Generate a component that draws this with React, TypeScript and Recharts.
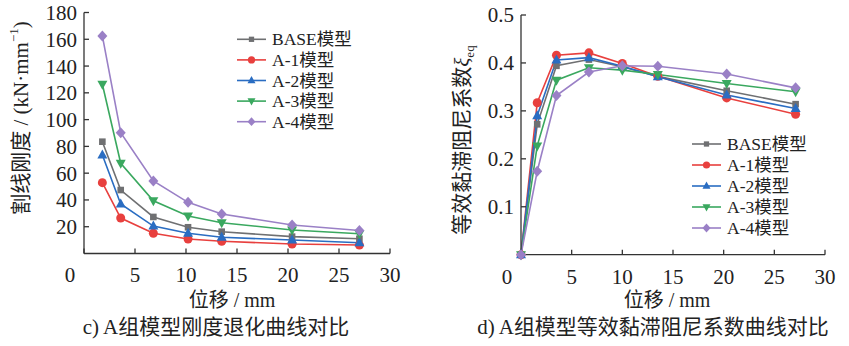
import { LineChart, Line, XAxis, YAxis } from 'recharts';

const FONT = '"Liberation Serif", "Noto Sans CJK SC", serif';
const INK = '#222';

const seriesNames = ['BASE模型', 'A-1模型', 'A-2模型', 'A-3模型', 'A-4模型'];
const seriesKeys = ['base', 'a1', 'a2', 'a3', 'a4'];
const seriesColors = ['#6f7072', '#e8403e', '#2a6dc2', '#3aa85f', '#9a80c6'];
const seriesMarkers = ['square', 'circle', 'triangle', 'triangleDown', 'diamond'];

// c) 割线刚度
const stiffDisp = [1.8, 3.6, 6.8, 10.2, 13.5, 20.4, 27.0];
const stiffBase = [83.5, 47.4, 27.3, 19.6, 16.3, 12.6, 11.0];
const stiffA1 = [52.9, 26.5, 15.1, 10.8, 9.1, 7.1, 6.3];
const stiffA2 = [73.6, 37.0, 20.5, 15.1, 12.1, 10.1, 8.0];
const stiffA3 = [126.4, 67.4, 39.4, 28.0, 23.0, 17.6, 14.7];
const stiffA4 = [162.5, 90.2, 54.2, 38.2, 29.5, 21.3, 17.2];
const stiffTicksX = [0, 5, 10, 15, 20, 25, 30];
const stiffTicksY = [20, 40, 60, 80, 100, 120, 140, 160, 180];

// d) 等效黏滞阻尼系数
const xiDisp = [0, 1.6, 3.5, 6.7, 10.0, 13.5, 20.3, 27.1];
const xiBase = [0, 0.272, 0.394, 0.407, 0.392, 0.372, 0.342, 0.314];
const xiA1 = [0, 0.317, 0.416, 0.421, 0.399, 0.372, 0.327, 0.293];
const xiA2 = [0, 0.29, 0.406, 0.411, 0.393, 0.371, 0.333, 0.305];
const xiA3 = [0, 0.227, 0.364, 0.39, 0.385, 0.376, 0.357, 0.34];
const xiA4 = [0, 0.174, 0.332, 0.381, 0.394, 0.393, 0.377, 0.348];
const xiTicksX = [0, 5, 10, 15, 20, 25, 30];
const xiTicksY = [0.1, 0.2, 0.3, 0.4, 0.5];

const build = (xs: number[], cols: number[][]) =>
  xs.map((x, i) => {
    const row: any = { x };
    seriesKeys.forEach((k, j) => (row[k] = cols[j][i]));
    return row;
  });

const stiffData = build(stiffDisp, [stiffBase, stiffA1, stiffA2, stiffA3, stiffA4]);
const xiData = build(xiDisp, [xiBase, xiA1, xiA2, xiA3, xiA4]);

function Marker({ kind, cx, cy, color, s = 1 }: any) {
  if (cx == null || cy == null) return null;
  switch (kind) {
    case 'square':
      return <rect x={cx - 3.3 * s} y={cy - 3.3 * s} width={6.6 * s} height={6.6 * s} fill={color} />;
    case 'circle':
      return <circle cx={cx} cy={cy} r={4.5 * s} fill={color} />;
    case 'triangle':
      return <polygon points={`${cx},${cy - 5.5 * s} ${cx + 5 * s},${cy + 3.5 * s} ${cx - 5 * s},${cy + 3.5 * s}`} fill={color} />;
    case 'triangleDown':
      return <polygon points={`${cx},${cy + 5.5 * s} ${cx + 5 * s},${cy - 3.5 * s} ${cx - 5 * s},${cy - 3.5 * s}`} fill={color} />;
    default:
      return <polygon points={`${cx},${cy - 5.5 * s} ${cx + 5 * s},${cy} ${cx},${cy + 5.5 * s} ${cx - 5 * s},${cy}`} fill={color} />;
  }
}

const XTick = (props: any) => {
  const { x, y, payload } = props;
  const dx = payload.value === 0 ? -14 : 0;
  return (
    <text x={x + dx} y={y} dy="0.71em" textAnchor="middle" fontSize={21} fill={INK} fontFamily={FONT}>
      {payload.value}
    </text>
  );
};

const axisLine = { stroke: '#333', strokeWidth: 1.3 };
const tickLine = { stroke: '#333', strokeWidth: 1.3 };
const yTick = { fontSize: 21, fill: INK, fontFamily: FONT };

function Series() {
  return seriesKeys.map((k, j) => (
    <Line
      key={k}
      dataKey={k}
      stroke={seriesColors[j]}
      strokeWidth={1.6}
      isAnimationActive={false}
      dot={(p: any) => <Marker key={p.index} kind={seriesMarkers[j]} cx={p.cx} cy={p.cy} color={seriesColors[j]} />}
      activeDot={false}
    />
  ));
}

function LegendBlock({ x, y, step }: { x: number; y: number; step: number }) {
  return (
    <g>
      {seriesNames.map((n, j) => {
        const cy = y + j * step;
        return (
          <g key={n}>
            <line x1={x} x2={x + 29} y1={cy} y2={cy} stroke={seriesColors[j]} strokeWidth={1.6} />
            <Marker kind={seriesMarkers[j]} cx={x + 14.5} cy={cy} color={seriesColors[j]} s={0.8} />
            <text x={x + 35} y={cy} dominantBaseline="central" fontSize={17.5} fill={INK} fontFamily={FONT}>
              {n}
            </text>
          </g>
        );
      })}
    </g>
  );
}

export default function App() {
  return (
    <div style={{ position: 'absolute', left: 0, top: 0, width: 849, height: 346, background: '#fff' }}>
      <div style={{ position: 'absolute', left: 0, top: 0 }}>
        <LineChart width={420} height={300} data={stiffData} margin={{ top: 12.5, right: 30, left: 24, bottom: 16.5 }}>
          <XAxis
            type="number"
            dataKey="x"
            domain={[0, 30]}
            ticks={stiffTicksX}
            interval={0}
            height={30}
            axisLine={axisLine}
            tickLine={tickLine}
            tickSize={-5}
            tickMargin={19}
            tick={<XTick />}
          />
          <YAxis
            type="number"
            domain={[0, 180]}
            ticks={stiffTicksY}
            interval={0}
            width={60}
            axisLine={axisLine}
            tickLine={tickLine}
            tickSize={-5}
            tickMargin={12}
            tick={yTick}
          />
          {Series()}
        </LineChart>
      </div>
      <div style={{ position: 'absolute', left: 430, top: 0 }}>
        <LineChart width={419} height={300} data={xiData} margin={{ top: 15, right: 24, left: 31, bottom: 15.3 }}>
          <XAxis
            type="number"
            dataKey="x"
            domain={[0, 30]}
            ticks={xiTicksX}
            interval={0}
            height={30}
            axisLine={axisLine}
            tickLine={tickLine}
            tickSize={-5}
            tickMargin={19}
            tick={<XTick />}
          />
          <YAxis
            type="number"
            domain={[0, 0.5]}
            ticks={xiTicksY}
            interval={0}
            width={60}
            axisLine={axisLine}
            tickLine={tickLine}
            tickSize={-5}
            tickMargin={12}
            tick={yTick}
          />
          {Series()}
        </LineChart>
      </div>
      <svg width={849} height={346} style={{ position: 'absolute', left: 0, top: 0, pointerEvents: 'none' }}>
        <LegendBlock x={237} y={39.3} step={20.6} />
        <LegendBlock x={692} y={144} step={21} />
        <text
          transform="translate(21,118) rotate(-90)"
          textAnchor="middle"
          dominantBaseline="central"
          fontSize={21}
          fill={INK}
          fontFamily={FONT}
        >
          割线刚度 / (kN·mm<tspan baselineShift="super" fontSize={13}>−1</tspan>)
        </text>
        <text
          transform="translate(462,140) rotate(-90)"
          textAnchor="middle"
          dominantBaseline="central"
          fontSize={21}
          fill={INK}
          fontFamily={FONT}
        >
          等效黏滞阻尼系数<tspan fontStyle="italic">ξ</tspan>
          <tspan baselineShift="sub" fontSize={13}>eq</tspan>
        </text>
        <text x={232} y={300} textAnchor="middle" dominantBaseline="central" fontSize={20} fill={INK} fontFamily={FONT}>
          位移 / mm
        </text>
        <text x={667} y={300} textAnchor="middle" dominantBaseline="central" fontSize={20} fill={INK} fontFamily={FONT}>
          位移 / mm
        </text>
        <text x={216} y={327} textAnchor="middle" dominantBaseline="central" fontSize={21} fill={INK} fontFamily={FONT}>
          c) A组模型刚度退化曲线对比
        </text>
        <text x={653} y={327} textAnchor="middle" dominantBaseline="central" fontSize={21} fill={INK} fontFamily={FONT}>
          d) A组模型等效黏滞阻尼系数曲线对比
        </text>
      </svg>
    </div>
  );
}
